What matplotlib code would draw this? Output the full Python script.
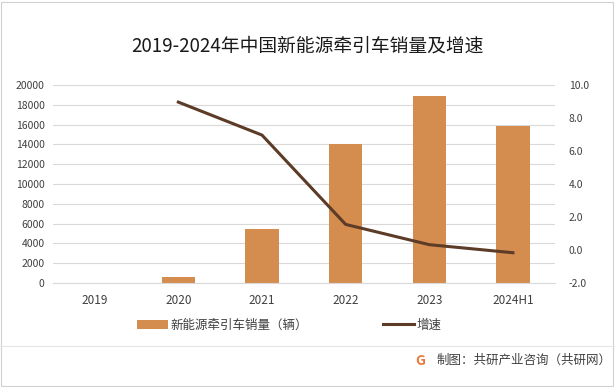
import matplotlib.pyplot as plt
import numpy as np

plt.rcParams['font.family'] = ['Noto Sans CJK SC', 'DejaVu Sans']

# data
years = ['2019', '2020', '2021', '2022', '2023', '2024H1']
sales = [0, 600, 5450, 14050, 18900, 15900]
growth_years = ['2020', '2021', '2022', '2023', '2024H1']
growth = [8.97, 6.97, 1.55, 0.32, -0.17]

bar_color = '#D58C4F'
line_color = '#5C3B27'
grid_color = '#D9D9D9'
text_color = '#404040'

fig = plt.figure(figsize=(6.15, 3.87), dpi=100)
ax = fig.add_axes([0.086, 0.269, 0.816, 0.511])
ax2 = ax.twinx()

x = np.arange(len(years))
ax.bar(x, sales, width=0.4, color=bar_color, zorder=2, label='新能源牵引车销量（辆）')
ax.set_ylim(0, 20000)
ax.set_yticks(np.arange(0, 20001, 2000))
ax.set_xlim(-0.5, len(years) - 0.5)
ax.set_xticks(x)
ax.set_xticklabels(years)
ax.yaxis.grid(True, color=grid_color, linewidth=0.8)
ax.set_axisbelow(True)

gx = [years.index(y) for y in growth_years]
ax2.plot(gx, growth, color=line_color, linewidth=2.2, label='增速', zorder=3)
ax2.set_ylim(-2, 10)
ax2.set_yticks(np.arange(-2, 10.1, 2))
ax2.set_yticklabels(['%.1f' % v for v in np.arange(-2, 10.1, 2)])

for a in (ax, ax2):
    for s in a.spines.values():
        s.set_visible(False)
    a.tick_params(length=0, labelsize=7.5, colors=text_color)
ax.tick_params(axis='x', labelsize=8.5, pad=8)
ax.tick_params(axis='y', pad=6)
ax2.tick_params(axis='y', pad=10)
ax.spines['bottom'].set_visible(True)
ax.spines['bottom'].set_color(grid_color)

fig.text(0.5, 0.882, '2019-2024年中国新能源牵引车销量及增速', ha='center', va='center',
         fontsize=13.5, color='#1a1a1a')

h1, l1 = ax.get_legend_handles_labels()
h2, l2 = ax2.get_legend_handles_labels()
fig.legend(h1 + h2, l1 + l2, loc='center', bbox_to_anchor=(0.47, 0.16), ncol=2,
           frameon=False, fontsize=9, columnspacing=6, handlelength=2.5,
           handletextpad=0.2, labelcolor=text_color)

# footer
fig.add_artist(plt.Line2D([0.0, 1.0], [0.106, 0.106], color='#E6E6E6', linewidth=0.8))
fig.text(0.995, 0.068, '制图：共研产业咨询（共研网）', ha='right', va='center',
         fontsize=9, color=text_color)
fig.text(0.683, 0.068, 'G', ha='center', va='center', fontsize=10, fontweight='bold',
         color='#E8793A')

# outer border
fig.add_artist(plt.Rectangle((0.002, 0.003), 0.995, 0.993, fill=False,
                             edgecolor='#D0D0D0', linewidth=0.8, transform=fig.transFigure))

fig.savefig('out.png', dpi=100)
